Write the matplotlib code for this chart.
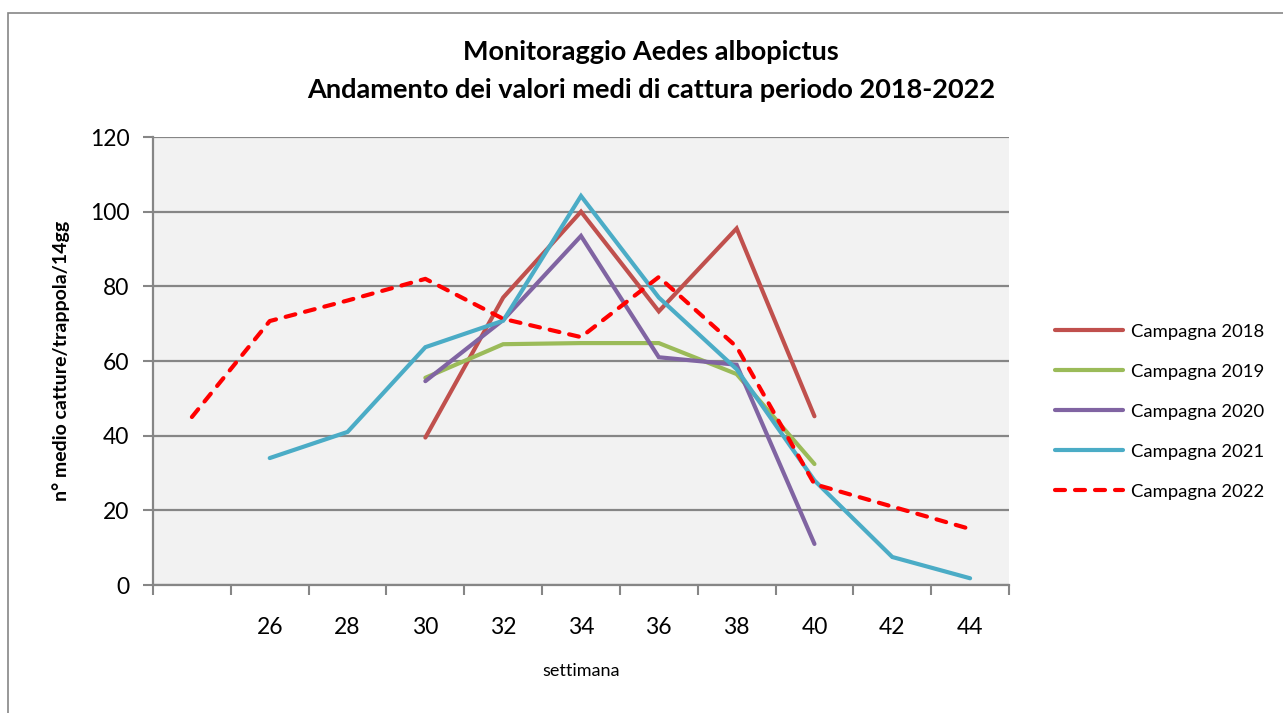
import numpy as np
import matplotlib.pyplot as plt
from matplotlib.patches import Rectangle

plt.rcParams['font.family'] = ['Lato', 'DejaVu Sans']

# settimane (categorie): la prima non ha etichetta
settimane = [24, 26, 28, 30, 32, 34, 36, 38, 40, 42, 44]
etichette = ['', '26', '28', '30', '32', '34', '36', '38', '40', '42', '44']

nan = np.nan
camp_2018 = [nan, nan, nan, 39.5, 77, 100, 73.3, 95.5, 45.2, nan, nan]
camp_2019 = [nan, nan, nan, 55.5, 64.5, 64.8, 64.8, 56.5, 32.4, nan, nan]
camp_2020 = [nan, nan, nan, 54.6, 71, 93.5, 61, 59, 11, nan, nan]
camp_2021 = [nan, 34, 41, 63.7, 70.8, 104.2, 77, 57.8, 28, 7.5, 1.8]
camp_2022 = [45, 70.7, 76.2, 82, 71.3, 66.4, 82.5, 63.8, 27, 21, 15]

serie = [
    ('Campagna 2018', camp_2018, '#C0504D', '-'),
    ('Campagna 2019', camp_2019, '#9BBB59', '-'),
    ('Campagna 2020', camp_2020, '#8064A2', '-'),
    ('Campagna 2021', camp_2021, '#4BACC6', '-'),
    ('Campagna 2022', camp_2022, '#FF0000', '--'),
]

fig = plt.figure(figsize=(12.83, 7.13), dpi=100)
fig.patches.append(Rectangle((8 / 1283, -0.1), 1.2, 1 - 13 / 713 + 0.1,
                             transform=fig.transFigure, fill=False,
                             edgecolor='#868686', linewidth=1.2))

ax = fig.add_axes([153 / 1283, 1 - 585 / 713, 856 / 1283, 448 / 713])
ax.set_facecolor('#F2F2F2')

x = np.arange(len(settimane))
for nome, valori, colore, stile in serie:
    kw = dict(color=colore, linewidth=3, label=nome, solid_capstyle='round',
              solid_joinstyle='miter')
    if stile == '--':
        kw.update(linestyle=(0, (2.4, 2.4)), dash_capstyle='round')
    ax.plot(x, valori, **kw)

ax.set_xlim(-0.5, len(settimane) - 0.5)
ax.set_ylim(0, 120)
ax.set_yticks(np.arange(0, 121, 20))
ax.set_xticks(np.arange(-0.5, len(settimane)), minor=False)
ax.set_xticklabels([])
ax.set_xticks(x, minor=True)
ax.set_xticklabels(etichette, minor=True)
ax.tick_params(axis='x', which='major', length=7, width=1.5, color='#868686', direction='out')
ax.tick_params(axis='x', which='minor', length=0, pad=23, labelsize=16.5)
ax.tick_params(axis='y', length=7, width=1.5, color='#868686', direction='out',
               labelsize=16.5, pad=10)

ax.grid(axis='y', color='#868686', linewidth=1.6)
ax.set_axisbelow(True)
for s in ['top', 'right']:
    ax.spines[s].set_visible(False)
for s in ['left', 'bottom']:
    ax.spines[s].set_color('#868686')
    ax.spines[s].set_linewidth(1.6)

ax.set_xlabel('settimana', fontsize=13, labelpad=18)
ax.set_ylabel('n° medio catture/trappola/14gg', fontsize=14, fontweight='bold', labelpad=14)

fig.text(651 / 1283, 1 - 52 / 713, 'Monitoraggio Aedes albopictus', ha='center', va='center',
         fontsize=19.5, fontweight='bold')
fig.text(651 / 1283, 1 - 90 / 713, 'Andamento dei valori medi di cattura periodo 2018-2022',
         ha='center', va='center', fontsize=19.5, fontweight='bold')

ax.legend(loc='upper left', bbox_to_anchor=(1038 / 1283, 1 - 307 / 713),
          bbox_transform=fig.transFigure, frameon=False, fontsize=13.3,
          handlelength=3.7, labelspacing=1.3, handletextpad=0.45)

fig.savefig('out.png', dpi=100)
